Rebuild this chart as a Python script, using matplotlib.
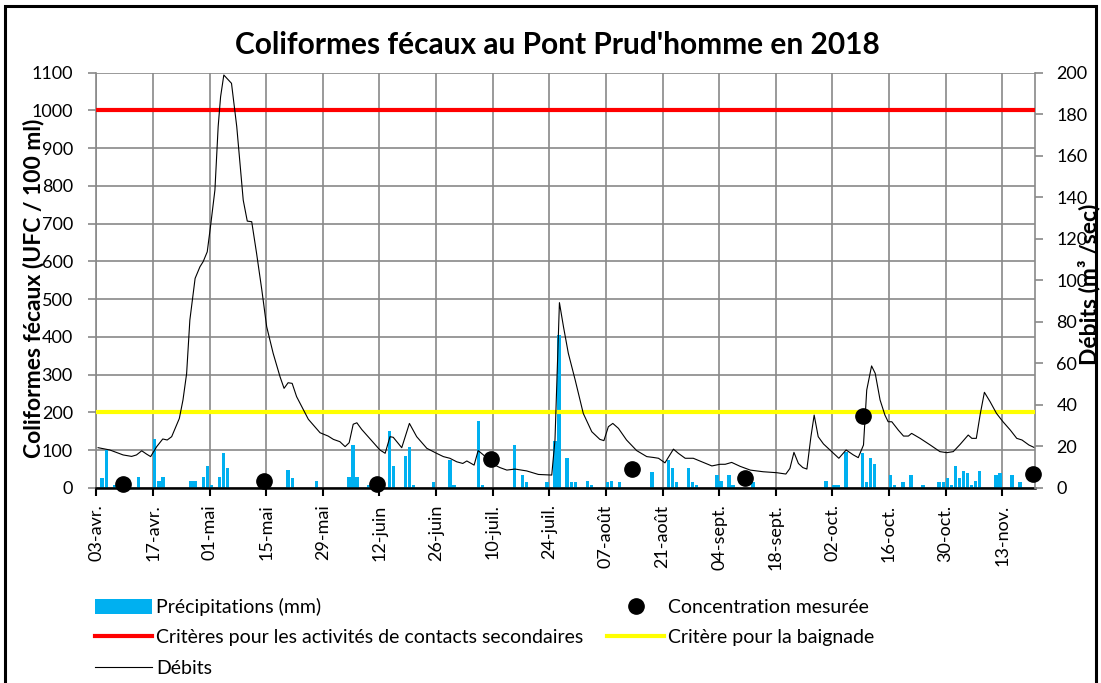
import matplotlib
matplotlib.use("Agg")
import matplotlib.pyplot as plt
from matplotlib.lines import Line2D
from matplotlib.patches import Patch, Rectangle

plt.rcParams["font.family"] = ["Lato", "DejaVu Sans"]

# x = days counted from 03 April 2018
tick_days = list(range(0, 225, 14))
tick_labels = ["03-avr.", "17-avr.", "01-mai", "15-mai", "29-mai", "12-juin",
               "26-juin", "10-juil.", "24-juil.", "07-août", "21-août",
               "04-sept.", "18-sept.", "02-oct.", "16-oct.", "30-oct.", "13-nov."]

# daily rain (left axis units)
precip_days = [1, 2, 4, 10, 14, 15, 16, 23, 24, 26, 27, 28, 30, 31, 32, 47, 48,
               54, 62, 63, 64, 67, 72, 73, 76, 77, 78, 83, 87, 88, 94, 95, 103,
               105, 106, 111, 113, 114, 116, 117, 118, 121, 122, 126, 127, 129,
               137, 141, 142, 143, 146, 147, 148, 153, 154, 156, 157, 162, 180,
               182, 183, 185, 189, 190, 191, 192, 196, 197, 199, 201, 204, 208,
               209, 210, 211, 212, 213, 214, 215, 216, 217, 218, 222, 223, 226,
               228]
precip_vals = [25, 100, 7, 29, 128, 19, 29, 18, 18, 29, 57, 7, 29, 91, 51, 47, 25,
               18, 29, 113, 29, 7, 151, 57, 85, 107, 7, 14, 73, 7, 178, 7, 113,
               35, 14, 14, 124, 405, 80, 14, 14, 19, 7, 14, 19, 14,
               41, 73, 53, 14, 51, 14, 7, 35, 19, 35, 7, 14, 19,
               7, 7, 95, 91, 14, 80, 64, 35, 7, 14, 35, 7, 14,
               14, 25, 7, 57, 25, 45, 40, 7, 18, 45, 35, 40, 35,
               14]

# measured concentrations (UFC / 100 ml)
conc_days = [6, 41, 69, 97, 132, 160, 189, 231]
conc_vals = [10, 18, 10, 76, 50, 26, 190, 36]

# flow (m3/s, right axis)
flow_days = [0.4, 3.3, 6.6, 8.7, 9.9, 11.2, 12.4, 13.4, 14.9, 16.4, 17.5, 18.6,
             20.5, 21.4, 22.3, 23.1, 24.4, 25.6, 26.4, 27.4, 28.2, 29.3, 30.1,
             30.7, 31.5, 33.4, 34.7, 36.3, 37.3, 38.4, 39.6, 40.9, 42.1, 43.7,
             45.4, 46.4, 47.4, 48.4, 49.5, 52.4, 55.3, 57.3, 58.6, 60.2, 61.5,
             62.5, 63.5, 64.4, 65.6, 68.5, 70.1, 71.4, 72.6, 73.4, 75.5,
             77.4, 79.2, 81.7, 84.1, 85.8, 87.4, 89.1, 90.6, 91.6, 93.4, 94.4,
             95.7, 97.7, 99.8, 101.5, 103.5, 106.4, 109.3, 112.6, 113.4, 114.5,
             115.5, 116.7, 118.4, 120.4, 122.5, 124.5, 125.5, 126.6, 127.7,
             129.1, 131.1, 133.6, 136.1, 137.7, 139.0, 140.6, 142.7, 143.9,
             145.6, 147.6, 149.7, 152.2, 154.2, 155.5, 157.1, 159.2,
             161.7, 164.9, 168.2, 170.5, 171.5, 172.5, 173.6, 174.7, 175.7,
             176.7, 177.5, 178.5, 179.8, 181.4, 183.6, 185.4, 187.2, 188.4,
             189.7, 190.5, 191.7, 192.6, 193.8, 195.0, 195.8, 196.7, 198.3,
             199.6, 200.8, 201.6, 203.7, 206.2, 208.6, 210.3, 211.9, 213.6,
             215.6, 216.5, 217.6, 218.6, 219.6, 221.0, 222.6, 224.2, 226.0,
             227.6, 228.9, 230.6, 231.8]
flow_vals = [19.3, 18.2, 15.8, 15.1, 15.8, 17.8, 16.2, 15.0, 19.8, 23.5, 23.0, 24.6,
             33.4, 42.3, 55, 80.8, 100.9, 106.5, 109, 113.7, 125.8, 143.5, 174,
             188.4, 198.9, 194.9, 174, 138.6, 128.5, 128.2, 113, 95.3, 77.6, 64.8,
             53.5, 47.9, 50.6, 50.3, 43.9, 33, 26.5, 24.9, 23.3, 22.2, 19.8,
             21.7, 30.6, 31.3, 28.1, 21.7, 18.2, 16.6, 24.6, 24.3, 19.3,
             31.0, 24.6, 19.0, 16.6, 15.0, 14.2, 12.5, 11.7, 12.9, 10.9, 17.9,
             15.8, 11.7, 9.7, 8.5, 9.0, 8.1, 6.4, 6.1, 23.0, 89.2,
             77.6, 64.8, 51.9, 35.8, 27.0, 23.3, 22.7, 29.4, 31.0,
             28.6, 23.0, 17.9, 15.0, 14.6, 14.2, 12.0, 18.6, 16.6,
             14.2, 14.2, 12.5, 10.5, 11.3, 11.3, 12.2, 10.3,
             8.5, 7.7, 7.25, 6.6, 9.3, 17.05, 11.7, 9.7, 9.0,
             24.6, 35.0, 24.6, 21.1, 18.2, 14.2, 18.2, 15.8, 14.5,
             20.6, 47.1, 58.7, 55.1, 42.3, 35.0, 31.8, 31.8, 27.8,
             24.9, 24.9, 26.2, 23.8, 20.6, 17.4, 16.9, 17.4, 20.9,
             25.4, 23.8, 23.8, 35.8, 46.0, 41.5, 35.8, 31.8, 27.8,
             23.8, 23.0, 20.6, 19.5]

critere_secondaire = 1000
critere_baignade = 200

grid_col = "#898989"
rain_col = "#00B0F0"

fig = plt.figure(figsize=(11.01, 6.83), dpi=100)
ax = fig.add_axes([0.0876, 0.2859, 0.8524, 0.6076])
ax2 = ax.twinx()

ax.set_xlim(0, 232.1)
ax.set_ylim(0, 1100)
ax2.set_ylim(0, 200)


def left_to_right(v):
    # map a left-axis value onto the right (flow) axis
    disp = ax.transData.transform((0, v))
    return ax2.transData.inverted().transform(disp)[1]


ax.bar(precip_days, precip_vals, width=0.85, align="edge", color=rain_col, zorder=2)
ax2.axhline(left_to_right(critere_secondaire), color="red", lw=3, zorder=3)
ax2.axhline(left_to_right(critere_baignade), color="#FFFF00", lw=3, zorder=3)
ax2.plot(flow_days, flow_vals, color="black", lw=0.8, zorder=4)
ax2.plot([d + 0.5 for d in conc_days], [left_to_right(v) for v in conc_vals], "o",
         color="black", ms=11, zorder=5, clip_on=False)

ax.set_yticks(range(0, 1101, 100))
ax2.set_yticks(range(0, 201, 20))
ax.set_xticks(tick_days)
ax.set_xticklabels(tick_labels, rotation=90, fontsize=13)
ax.tick_params(axis="y", labelsize=13, direction="out", length=6, width=1.2,
               color=grid_col, pad=11)
ax.tick_params(axis="x", direction="out", length=6, width=1.5, color="black", pad=6)
ax2.tick_params(axis="y", labelsize=13, direction="out", length=6, width=1.2,
                color=grid_col, pad=9.5)

ax.grid(True, color=grid_col, lw=1.2, zorder=0)
ax.set_axisbelow(True)

for s in ["top", "right"]:
    ax.spines[s].set_visible(False)
ax.spines["left"].set_color(grid_col)
ax.spines["left"].set_linewidth(1.2)
ax.spines["bottom"].set_color("black")
ax.spines["bottom"].set_linewidth(1.8)
for s in ["top", "left", "bottom"]:
    ax2.spines[s].set_visible(False)
ax2.spines["right"].set_color(grid_col)
ax2.spines["right"].set_linewidth(1.2)

ax.set_ylabel("Coliformes fécaux (UFC / 100 ml)", fontsize=16.5, fontweight="bold")
ax.yaxis.set_label_coords(-0.056, 0.48)
ax2.set_ylabel("Débits (m³ /sec)", fontsize=16.5, fontweight="bold")
ax2.yaxis.set_label_coords(1.046, 0.49)

fig.text(0.506, 1 - 45 / 683, "Coliformes fécaux au Pont Prud'homme en 2018",
         fontsize=21.5, fontweight="bold", ha="center", va="center")

handles = [
    Patch(facecolor=rain_col, label="Précipitations (mm)"),
    Line2D([], [], color="red", lw=3, label="Critères pour les activités de contacts secondaires"),
    Line2D([], [], color="black", lw=0.8, label="Débits"),
    Line2D([], [], marker="o", color="black", ls="none", ms=11, label="Concentration mesurée"),
    Line2D([], [], color="#FFFF00", lw=3, label="Critère pour la baignade"),
]
fig.legend(handles=handles, loc="upper left", bbox_to_anchor=(95 / 1101, 1 - 598 / 683),
           ncol=2, frameon=False, fontsize=14, handlelength=2.95, handleheight=0.8,
           handletextpad=0.2, columnspacing=1.2, labelspacing=0.68,
           borderpad=0, borderaxespad=0)

fig.patches.append(Rectangle((5 / 1101, -0.01), 1091 / 1101, 1 - 6 / 683 + 0.01,
                             transform=fig.transFigure, fill=False, lw=2.2,
                             edgecolor="black"))

fig.savefig("out.png", dpi=100)
